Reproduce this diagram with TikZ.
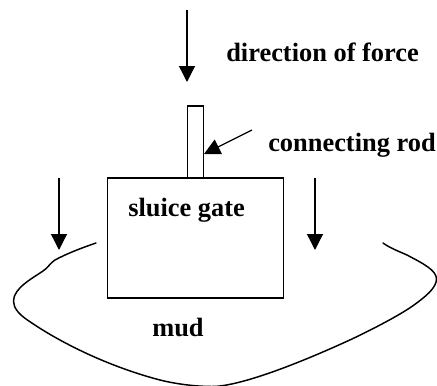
\documentclass[tikz,border=0pt]{standalone}
\usepackage{fontspec}
\setmainfont{Liberation Serif}
\usetikzlibrary{arrows.meta}
\tikzset{
  lbl/.style={anchor=base west,inner sep=0pt,font=\fontsize{19.8pt}{22pt}\selectfont\bfseries},
  box/.style={draw,line width=1pt,fill=white},
  arr/.style={line width=1pt,-{Triangle[length=12pt,width=12pt]},shorten >=0pt},
  mud/.style={line width=1.1pt,line cap=round}
}
\begin{document}
\begin{tikzpicture}[x=0.75pt,y=-0.75pt]
\useasboundingbox (0,0) rectangle (437,386);
\coordinate (topS) at (187,10);
\coordinate (topE) at (187,82);
\coordinate (leftS) at (59,178);
\coordinate (leftE) at (59,250);
\coordinate (rightS) at (315,178);
\coordinate (rightE) at (315,250);
\coordinate (rodS) at (252,130);
\coordinate (rodE) at (204,154);
\draw[box] (187.5,106) rectangle (203.5,178);
\draw[box] (107.5,178) rectangle (283.5,298);
\draw[arr] (topS) -- (topE);
\draw[arr] (leftS) -- (leftE);
\draw[arr] (rightS) -- (rightE);
\draw[arr] (rodS) -- (rodE);
\node[lbl] (force) at (226,61) {direction of force};
\node[lbl] (rod) at (268,151) {connecting rod};
\node[lbl] (gate) at (128,216.5) {sluice gate};
\node[lbl] (mudl) at (152,336.5) {mud};
\draw[mud] (96,243) .. controls (80,248.5) and (66,254) .. (55,260)
  .. controls (50,263) and (48,268) .. (43,271)
  .. controls (33,278) and (13.5,288) .. (13.5,301)
  .. controls (13.5,308) and (19,314) .. (26,319)
  .. controls (60,343) and (110,367) .. (160,380)
  .. controls (180,385) and (200,386.5) .. (212,386.5)
  .. controls (240,386.5) and (300,363) .. (352,339)
  .. controls (375,328) and (400,315) .. (414,305)
  .. controls (425,297) and (436.5,288) .. (436.5,279)
  .. controls (436.5,270) and (422,263) .. (407,255)
  .. controls (398,251) and (390,248) .. (383,243);
\end{tikzpicture}
\end{document}
